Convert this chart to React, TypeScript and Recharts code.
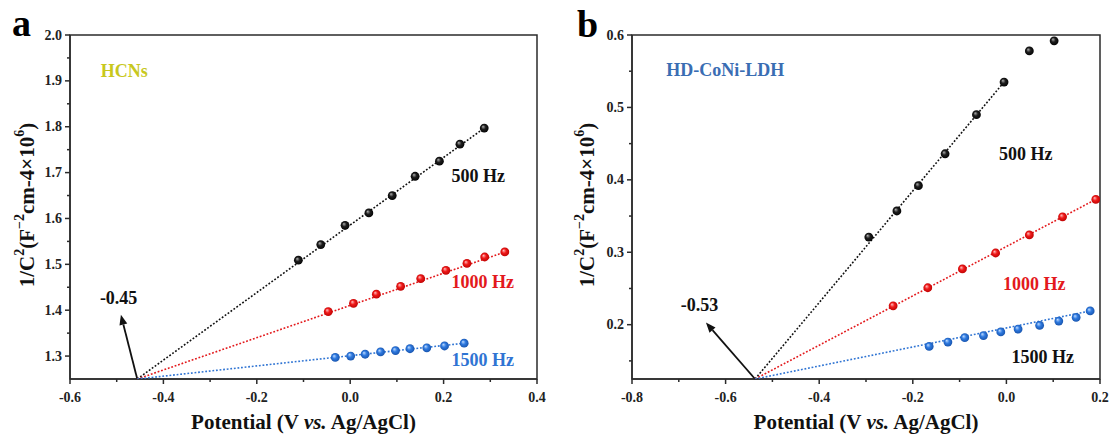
import React from 'react';
import { ScatterChart, Scatter, XAxis, YAxis, ReferenceArea, ReferenceDot, ReferenceLine } from 'recharts';

const FONT = '"Liberation Serif", "Times New Roman", serif';
const AXIS = '#2b2b2b';

// panel a (HCNs)
const potA500 = [-0.111, -0.063, -0.011, 0.04, 0.09, 0.139, 0.191, 0.235, 0.287];
const invA500 = [1.509, 1.543, 1.585, 1.612, 1.65, 1.692, 1.725, 1.762, 1.797];
const potA1000 = [-0.047, 0.007, 0.056, 0.108, 0.151, 0.205, 0.25, 0.288, 0.331];
const invA1000 = [1.397, 1.415, 1.435, 1.452, 1.469, 1.487, 1.502, 1.516, 1.527];
const potA1500 = [-0.032, 0.001, 0.032, 0.065, 0.097, 0.128, 0.164, 0.202, 0.244];
const invA1500 = [1.297, 1.3, 1.304, 1.309, 1.312, 1.316, 1.318, 1.322, 1.328];
const fitA500 = { x: [-0.456, 0.287], y: [1.25, 1.797] };
const fitA1000 = { x: [-0.456, 0.34], y: [1.25, 1.53] };
const fitA1500 = { x: [-0.456, 0.244], y: [1.25, 1.328] };

// panel b (HD-CoNi-LDH)
const potB500 = [-0.294, -0.234, -0.188, -0.131, -0.064, -0.005, 0.049, 0.102];
const invB500 = [0.321, 0.357, 0.392, 0.436, 0.49, 0.535, 0.578, 0.592];
const potB1000 = [-0.242, -0.168, -0.094, -0.023, 0.049, 0.12, 0.191];
const invB1000 = [0.226, 0.251, 0.277, 0.299, 0.324, 0.349, 0.373];
const potB1500 = [-0.165, -0.125, -0.089, -0.049, -0.012, 0.025, 0.071, 0.112, 0.149, 0.179];
const invB1500 = [0.17, 0.176, 0.182, 0.185, 0.19, 0.194, 0.199, 0.205, 0.21, 0.219];
const fitB500 = { x: [-0.537, -0.005], y: [0.125, 0.535] };
const fitB1000 = { x: [-0.537, 0.191], y: [0.125, 0.373] };
const fitB1500 = { x: [-0.537, 0.179], y: [0.125, 0.219] };

const xTicksA = [-0.6, -0.5, -0.4, -0.3, -0.2, -0.1, 0, 0.1, 0.2, 0.3, 0.4];
const yTicksA = [1.3, 1.35, 1.4, 1.45, 1.5, 1.55, 1.6, 1.65, 1.7, 1.75, 1.8, 1.85, 1.9, 1.95, 2.0];
const xTicksB = [-0.8, -0.7, -0.6, -0.5, -0.4, -0.3, -0.2, -0.1, 0, 0.1, 0.2];
const yTicksB = [0.15, 0.2, 0.25, 0.3, 0.35, 0.4, 0.45, 0.5, 0.55, 0.6];

const zip = (xs: number[], ys: number[]) => xs.map((x, i) => ({ x, y: ys[i] }));

const XTick = ({ x, y, payload }: any) => {
  const major = Math.round(payload.value * 10) % 2 === 0;
  return (
    <g>
      <line x1={x} x2={x} y1={y} y2={y + (major ? 5 : 3)} stroke={AXIS} strokeWidth={1.5} />
      {major && (
        <text x={x} y={y + 18} textAnchor="middle" dominantBaseline="central" fontSize={14} fontWeight="bold" fontFamily={FONT} fill="#222">
          {payload.value.toFixed(1)}
        </text>
      )}
    </g>
  );
};

const YTick = ({ x, y, payload }: any) => {
  const major = Math.round(payload.value * 20) % 2 === 0;
  return (
    <g>
      <line x1={x - (major ? 5 : 3)} x2={x} y1={y} y2={y} stroke={AXIS} strokeWidth={1.5} />
      {major && (
        <text x={x - 8} y={y} textAnchor="end" dominantBaseline="central" fontSize={14} fontWeight="bold" fontFamily={FONT} fill="#222">
          {payload.value.toFixed(1)}
        </text>
      )}
    </g>
  );
};

const XTitle = ({ viewBox }: any) => (
  <text x={viewBox.x + viewBox.width / 2} y={viewBox.y + 43} textAnchor="middle" dominantBaseline="central" fontSize={21} fontWeight="bold" fontFamily={FONT} fill="#111">
    Potential (V <tspan fontStyle="italic">vs.</tspan> Ag/AgCl)
  </text>
);

const YTitle = ({ viewBox }: any) => {
  const cx = viewBox.x + 27;
  const cy = viewBox.y + viewBox.height / 2 - 2;
  return (
    <text x={cx} y={cy} transform={`rotate(-90, ${cx}, ${cy})`} textAnchor="middle" dominantBaseline="central" fontSize={21} fontWeight="bold" fontFamily={FONT} fill="#111">
      1/C<tspan dy={-8} fontSize={14}>2</tspan>
      <tspan dy={8}>(F</tspan>
      <tspan dy={-8} fontSize={14}>−2</tspan>
      <tspan dy={8}>cm-4×10</tspan>
      <tspan dy={-8} fontSize={14}>6</tspan>
      <tspan dy={8}>)</tspan>
    </text>
  );
};

const ball = (grad: string) => (p: any) => <circle cx={p.cx} cy={p.cy} r={4.4} fill={`url(#${grad})`} />;
const noDot = () => <g />;

const Arrow = (p: any) => {
  const ang = Math.atan2(p.y2 - p.y1, p.x2 - p.x1);
  const len = 10;
  const w = 4;
  const bx = p.x2 - len * Math.cos(ang);
  const by = p.y2 - len * Math.sin(ang);
  const nx = -Math.sin(ang) * w;
  const ny = Math.cos(ang) * w;
  return (
    <g>
      <line x1={p.x1} y1={p.y1} x2={bx} y2={by} stroke="#111" strokeWidth={1.8} />
      <polygon points={`${p.x2},${p.y2} ${bx + nx},${by + ny} ${bx - nx},${by - ny}`} fill="#111" />
    </g>
  );
};

type Note = { text: string; x: number; y: number; color: string };

type PanelProps = {
  left: number;
  width: number;
  yAxisWidth: number;
  marginRight: number;
  xDomain: number[];
  yDomain: number[];
  xTicks: number[];
  yTicks: number[];
  series: { data: { x: number; y: number }[]; fit: { x: number; y: number }[]; color: string; grad: string }[];
  arrow: { x: number; y: number }[];
  notes: Note[];
};

const Panel = ({ left, width, yAxisWidth, marginRight, xDomain, yDomain, xTicks, yTicks, series, arrow, notes }: PanelProps) => (
  <div style={{ position: 'absolute', left, top: 0 }}>
    <ScatterChart width={width} height={436} margin={{ top: 35, right: marginRight, bottom: 0, left: 0 }}>
      <XAxis
        type="number"
        dataKey="x"
        domain={xDomain}
        ticks={xTicks}
        interval={0}
        allowDataOverflow
        height={57}
        tickSize={0}
        tickMargin={0}
        tickLine={false}
        tick={XTick}
        axisLine={{ stroke: AXIS, strokeWidth: 1.5 }}
        label={{ content: XTitle }}
      />
      <YAxis
        type="number"
        dataKey="y"
        domain={yDomain}
        ticks={yTicks}
        interval={0}
        allowDataOverflow
        width={yAxisWidth}
        tickSize={0}
        tickMargin={0}
        tickLine={false}
        tick={YTick}
        axisLine={{ stroke: AXIS, strokeWidth: 1.5 }}
        label={{ content: YTitle }}
      />
      <ReferenceArea x1={xDomain[0]} x2={xDomain[1]} y1={yDomain[0]} y2={yDomain[1]} fill="none" stroke={AXIS} strokeWidth={1.5} />
      {series.map((s, i) => (
        <Scatter
          key={`fit-${i}`}
          data={s.fit}
          line={{ stroke: s.color, strokeWidth: 1.6, strokeDasharray: '1.8 1.8' }}
          lineType="joint"
          shape={noDot}
          isAnimationActive={false}
        />
      ))}
      {series.map((s, i) => (
        <Scatter key={`pts-${i}`} data={s.data} shape={ball(s.grad)} isAnimationActive={false} />
      ))}
      <ReferenceLine segment={arrow} shape={Arrow} />
      {notes.map((n) => (
        <ReferenceDot
          key={n.text}
          x={n.x}
          y={n.y}
          shape={(p: any) => (
            <text x={p.cx} y={p.cy} dominantBaseline="central" fontSize={18} fontWeight="bold" fontFamily={FONT} fill={n.color}>
              {n.text}
            </text>
          )}
        />
      ))}
    </ScatterChart>
  </div>
);

const RED = '#e3191c';
const BLUE = '#2f74d3';

export default function App() {
  return (
    <div style={{ position: 'absolute', left: 0, top: 0, width: 1113, height: 436, background: '#fff', fontFamily: FONT }}>
      <svg width={0} height={0} style={{ position: 'absolute' }}>
        <defs>
          <radialGradient id="gBlack" cx="0.5" cy="0.5" r="0.55" fx="0.35" fy="0.32">
            <stop offset="0%" stopColor="#b0b0b0" />
            <stop offset="45%" stopColor="#1e1e1e" />
            <stop offset="100%" stopColor="#000" />
          </radialGradient>
          <radialGradient id="gRed" cx="0.5" cy="0.5" r="0.55" fx="0.35" fy="0.32">
            <stop offset="0%" stopColor="#ffc0c0" />
            <stop offset="45%" stopColor="#f01a1a" />
            <stop offset="100%" stopColor="#b80000" />
          </radialGradient>
          <radialGradient id="gBlue" cx="0.5" cy="0.5" r="0.55" fx="0.35" fy="0.32">
            <stop offset="0%" stopColor="#c0dcff" />
            <stop offset="45%" stopColor="#2f7ae0" />
            <stop offset="100%" stopColor="#1550a8" />
          </radialGradient>
        </defs>
      </svg>
      <Panel
        left={0}
        width={560}
        yAxisWidth={70}
        marginRight={23}
        xDomain={[-0.6, 0.4]}
        yDomain={[1.25, 2.0]}
        xTicks={xTicksA}
        yTicks={yTicksA}
        series={[
          { data: zip(potA500, invA500), fit: zip(fitA500.x, fitA500.y), color: '#111', grad: 'gBlack' },
          { data: zip(potA1000, invA1000), fit: zip(fitA1000.x, fitA1000.y), color: RED, grad: 'gRed' },
          { data: zip(potA1500, invA1500), fit: zip(fitA1500.x, fitA1500.y), color: BLUE, grad: 'gBlue' },
        ]}
        arrow={[{ x: -0.456, y: 1.25 }, { x: -0.491, y: 1.39 }]}
        notes={[
          { text: 'HCNs', x: -0.534, y: 1.922, color: '#c8c81e' },
          { text: '500 Hz', x: 0.217, y: 1.692, color: '#111' },
          { text: '1000 Hz', x: 0.217, y: 1.4615, color: RED },
          { text: '1500 Hz', x: 0.217, y: 1.291, color: BLUE },
          { text: '-0.45', x: -0.536, y: 1.426, color: '#111' },
        ]}
      />
      <Panel
        left={560}
        width={553}
        yAxisWidth={72}
        marginRight={13}
        xDomain={[-0.8, 0.2]}
        yDomain={[0.125, 0.6]}
        xTicks={xTicksB}
        yTicks={yTicksB}
        series={[
          { data: zip(potB500, invB500), fit: zip(fitB500.x, fitB500.y), color: '#111', grad: 'gBlack' },
          { data: zip(potB1000, invB1000), fit: zip(fitB1000.x, fitB1000.y), color: RED, grad: 'gRed' },
          { data: zip(potB1500, invB1500), fit: zip(fitB1500.x, fitB1500.y), color: BLUE, grad: 'gBlue' },
        ]}
        arrow={[{ x: -0.537, y: 0.125 }, { x: -0.642, y: 0.203 }]}
        notes={[
          { text: 'HD-CoNi-LDH', x: -0.727, y: 0.551, color: '#3a6db3' },
          { text: '500 Hz', x: -0.016, y: 0.436, color: '#111' },
          { text: '1000 Hz', x: -0.007, y: 0.256, color: RED },
          { text: '1500 Hz', x: 0.011, y: 0.1556, color: '#111' },
          { text: '-0.53', x: -0.696, y: 0.227, color: '#111' },
        ]}
      />
      <svg width={1113} height={436} style={{ position: 'absolute', left: 0, top: 0, pointerEvents: 'none' }}>
        <text x={12} y={36} fontSize={38} fontWeight="bold" fontFamily={FONT} fill="#000">a</text>
        <text x={577} y={37} fontSize={38} fontWeight="bold" fontFamily={FONT} fill="#000">b</text>
      </svg>
    </div>
  );
}
